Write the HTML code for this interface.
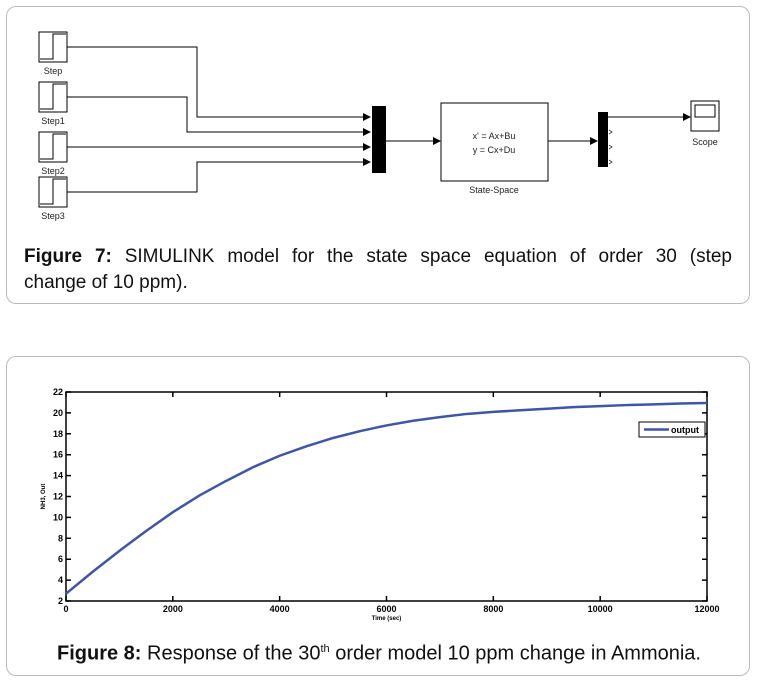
<!DOCTYPE html>
<html><head><meta charset="utf-8"><style>
body{margin:0;background:#fff;width:758px;height:681px;position:relative;overflow:hidden;font-family:"Liberation Sans",Arial,sans-serif}
.panel{position:absolute;border:1px solid #bbb;border-radius:10px;background:#fff}
.cap{position:absolute;font-size:19px;color:#111;line-height:26px}
</style></head><body>
<div class="panel" style="left:6px;top:6px;width:742px;height:296px"></div>
<svg width="758" height="240" style="position:absolute;left:0;top:0" font-family="Liberation Sans,Arial,sans-serif" font-size="9">
<defs><marker id="ar" markerWidth="8" markerHeight="8" refX="7" refY="4" orient="auto" markerUnits="userSpaceOnUse"><path d="M0,0L8,4L0,8z" fill="#000"/></marker></defs>
<g stroke="#000" fill="none" stroke-width="1">
<g><rect x="39" y="32" width="28" height="30"/><path d="M40,59H53V34H66"/></g>
<g><rect x="39" y="82" width="28" height="30"/><path d="M40,109H53V84H66"/></g>
<g><rect x="39" y="132" width="28" height="30"/><path d="M40,159H53V134H66"/></g>
<g><rect x="39" y="177" width="28" height="30"/><path d="M40,204H53V179H66"/></g>
<path d="M67,47H197V117H370" marker-end="url(#ar)"/>
<path d="M67,97H187V132H370" marker-end="url(#ar)"/>
<path d="M67,147H370" marker-end="url(#ar)"/>
<path d="M67,192H197V162H370" marker-end="url(#ar)"/>
<path d="M386,141H440" marker-end="url(#ar)"/>
<rect x="441" y="103" width="107" height="78"/>
<path d="M548,141H597" marker-end="url(#ar)"/>
<path d="M608,117H690" marker-end="url(#ar)"/>
<g><rect x="691" y="101" width="28" height="30"/><rect x="695" y="105" width="20" height="12"/></g>
<path d="M609,130l3,2l-3,2M609,145l3,2l-3,2M609,160l3,2l-3,2" stroke-width="0.7"/>
</g>
<rect x="372" y="106" width="14" height="67" fill="#000"/>
<rect x="598" y="112" width="10" height="55" fill="#000"/>
<g fill="#222">
<text x="53" y="74" text-anchor="middle">Step</text>
<text x="53" y="124" text-anchor="middle">Step1</text>
<text x="53" y="174" text-anchor="middle">Step2</text>
<text x="53" y="219" text-anchor="middle">Step3</text>
<text x="494" y="139" text-anchor="middle">x' = Ax+Bu</text>
<text x="494" y="153" text-anchor="middle">y = Cx+Du</text>
<text x="494" y="193" text-anchor="middle">State-Space</text>
<text x="705" y="145" text-anchor="middle">Scope</text>
</g></svg>
<div class="cap" style="left:24px;top:244px;width:708px"><div style="text-align:justify;text-align-last:justify;white-space:nowrap"><b>Figure 7:</b> SIMULINK model for the state space equation of order 30 (step</div><div>change of 10 ppm).</div></div>

<div class="panel" style="left:6px;top:356px;width:742px;height:318px"></div>
<svg id="chart" width="758" height="250" style="position:absolute;left:0;top:380px" font-family="Liberation Sans,Arial,sans-serif"></svg>
<div class="cap" style="left:0;top:636px;width:758px;text-align:center;font-size:20px"><b>Figure 8:</b> Response of the 30<sup style="font-size:11px">th</sup> order model 10 ppm change in Ammonia.</div>
<script>
const timeValues=[0,500,1000,1500,2000,2500,3000,3500,4000,4500,5000,5500,6000,6500,7000,7500,8000,8500,9000,9500,10000,10500,11000,11500,12000];
const outputValues=[2.7,4.8,6.8,8.7,10.5,12.1,13.5,14.8,15.9,16.8,17.6,18.25,18.8,19.25,19.6,19.9,20.1,20.25,20.4,20.55,20.65,20.75,20.82,20.9,20.95];
const xTicks=[0,2000,4000,6000,8000,10000,12000];
const yTicks=[2,4,6,8,10,12,14,16,18,20,22];
const svg=document.getElementById('chart');const NS='http://www.w3.org/2000/svg';
const L=66,R=707,T=12,B=221;
const xs=v=>L+(v-0)/12000*(R-L);const ys=v=>B-(v-2)/20*(B-T);
function mk(t,a,p){const e=document.createElementNS(NS,t);for(const k in a)e.setAttribute(k,a[k]);(p||svg).appendChild(e);return e;}
const frame=mk('rect',{x:L,y:T,width:R-L,height:B-T,fill:'none',stroke:'#000','stroke-width':1.5});


xTicks.forEach(v=>{const x=xs(v);
const tk=mk('path',{d:`M${x},${B}v-5M${x},${T}v5`,stroke:'#000','stroke-width':1.5});


const t=mk('text',{x:x,y:B+11,'text-anchor':'middle','font-size':9,'font-weight':'bold'});t.textContent=v;

});
yTicks.forEach(v=>{const y=ys(v);
const tk=mk('path',{d:`M${L},${y}h5M${R},${y}h-5`,stroke:'#000','stroke-width':1.5});


const t=mk('text',{x:L-3,y:y+3,'text-anchor':'end','font-size':9,'font-weight':'bold'});t.textContent=v;

});
const xt=mk('text',{x:(L+R)/2,y:B+19,'text-anchor':'middle','font-size':6,'font-weight':'bold'});xt.textContent='Time (sec)';


const yt=mk('text',{x:0,y:0,'text-anchor':'middle','font-size':6,'font-weight':'bold',transform:`translate(45,${(T+B)/2}) rotate(-90)`});yt.textContent='NH3, Out';


const line=mk('polyline',{points:timeValues.map((t,i)=>xs(t)+','+ys(outputValues[i])).join(' '),fill:'none',stroke:'#3f55a8','stroke-width':2.5,'stroke-linejoin':'round'});


const lg=mk('g',{});


mk('rect',{x:639,y:422-380,width:66,height:15,fill:'#fff',stroke:'#000','stroke-width':1},lg);
mk('path',{d:'M644,49.5h25',stroke:'#3f55a8','stroke-width':2.5},lg);
const lt=mk('text',{x:671,y:53,'font-size':9,'font-weight':'bold'},lg);lt.textContent='output';
</script>
</body></html>
